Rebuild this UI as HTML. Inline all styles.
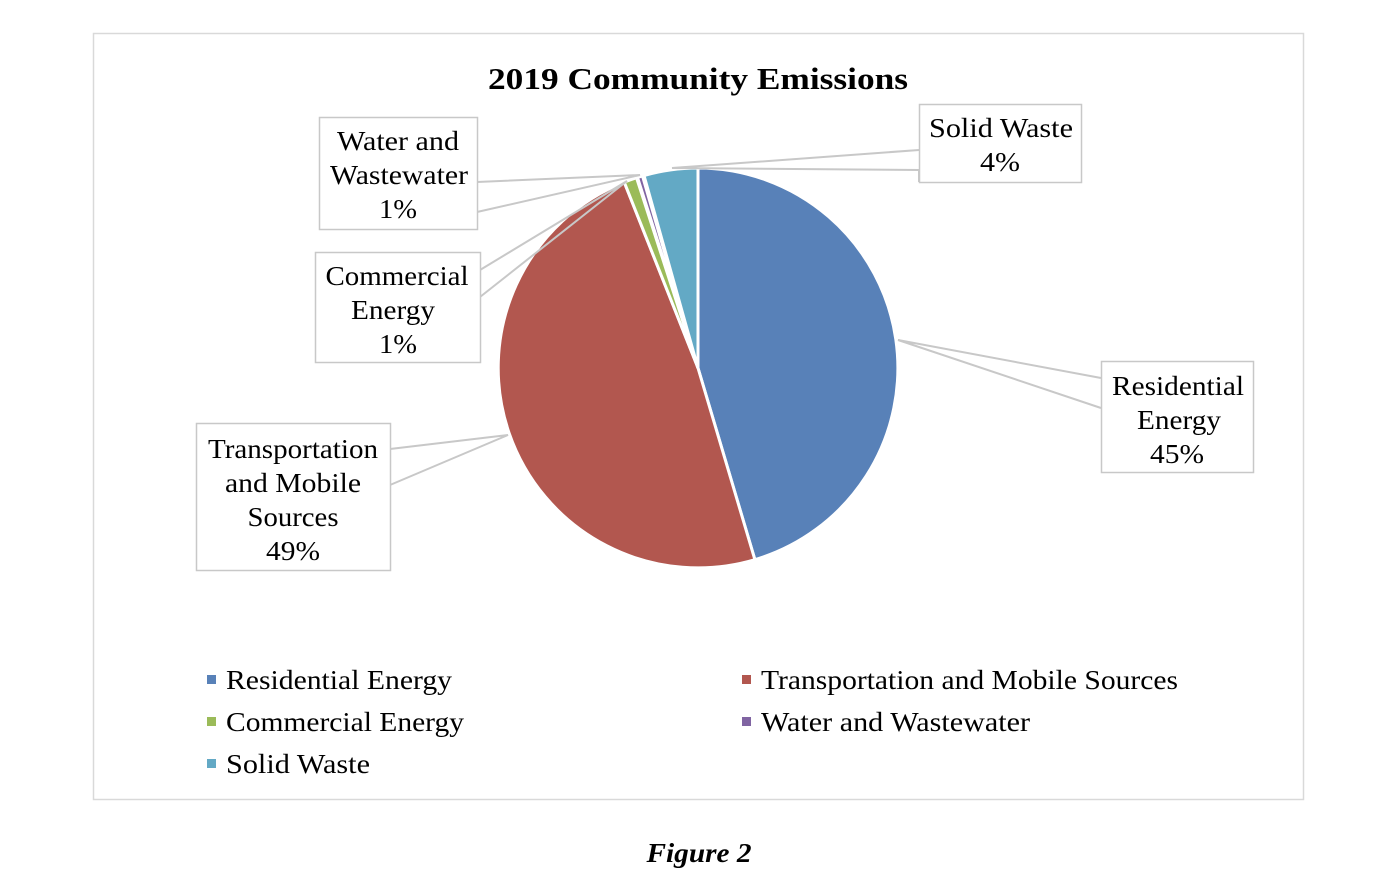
<!DOCTYPE html>
<html><head><style>
body{margin:0;background:#fff;}
svg{display:block;}
text{font-family:"Liberation Serif",serif;fill:#000;}
</style></head><body>
<svg width="1400" height="885" viewBox="0 0 1400 885">
<rect x="93.5" y="33.5" width="1210" height="766" fill="#fff" stroke="#d9d9d9" stroke-width="1.5"/>
<text x="698" y="89" font-size="31" font-weight="bold" text-anchor="middle" textLength="420" lengthAdjust="spacingAndGlyphs">2019 Community Emissions</text>
<g stroke="#fff" stroke-width="3" stroke-linejoin="round">
<path d="M698,368 L698,168 A200,200 0 0 1 754.9,559.7 Z" fill="#5881b8"/>
<path d="M698,368 L754.9,559.7 A200,200 0 0 1 624.2,182.1 Z" fill="#b2574f"/>
<path d="M698,368 L624.2,182.1 A200,200 0 0 1 636.5,177.7 Z" fill="#9bbb59"/>
<path d="M698,368 L637.5,177.4 A200,200 0 0 1 642.5,175.9 Z" fill="#8064a2"/>
<path d="M698,368 L644,175.5 A200,200 0 0 1 698,168 Z" fill="#63a9c5"/>
</g>
<g stroke="#c8c8c8" stroke-width="2" fill="none">
<polyline points="1101,378 898,340 1101,408"/>
<polyline points="390,449 508,435 390,485"/>
<polyline points="480,270 627,181 480,297"/>
<polyline points="477,182 640,175 477,212"/>
<polyline points="919,150 672,168 919,170 919,182"/>
</g>
<g fill="#fff" stroke="#c8c8c8" stroke-width="1.5">
<rect x="1101.5" y="361.5" width="152" height="111"/>
<rect x="196.5" y="423.5" width="194" height="147"/>
<rect x="315.5" y="252.5" width="165" height="110"/>
<rect x="319.5" y="117.5" width="158" height="112"/>
<rect x="919.5" y="104.5" width="162" height="78"/>
</g>
<g font-size="27" text-anchor="middle">
<text x="1178" y="395" textLength="132" lengthAdjust="spacingAndGlyphs">Residential</text><text x="1179" y="429" textLength="84" lengthAdjust="spacingAndGlyphs">Energy</text><text x="1177" y="463" textLength="54" lengthAdjust="spacingAndGlyphs">45%</text>
<text x="293" y="458" textLength="170" lengthAdjust="spacingAndGlyphs">Transportation</text><text x="293" y="492" textLength="136" lengthAdjust="spacingAndGlyphs">and Mobile</text><text x="293" y="526" textLength="91" lengthAdjust="spacingAndGlyphs">Sources</text><text x="293" y="560" textLength="54" lengthAdjust="spacingAndGlyphs">49%</text>
<text x="397" y="285" textLength="143" lengthAdjust="spacingAndGlyphs">Commercial</text><text x="393" y="319" textLength="84" lengthAdjust="spacingAndGlyphs">Energy</text><text x="398" y="353" textLength="38" lengthAdjust="spacingAndGlyphs">1%</text>
<text x="398" y="150" textLength="122" lengthAdjust="spacingAndGlyphs">Water and</text><text x="399" y="184" textLength="138" lengthAdjust="spacingAndGlyphs">Wastewater</text><text x="398" y="218" textLength="38" lengthAdjust="spacingAndGlyphs">1%</text>
<text x="1001" y="137" textLength="144" lengthAdjust="spacingAndGlyphs">Solid Waste</text><text x="1000" y="171" textLength="40" lengthAdjust="spacingAndGlyphs">4%</text>
</g>
<g font-size="27">
<rect x="207" y="675" width="9" height="9" fill="#5881b8"/><text x="226" y="689" textLength="226" lengthAdjust="spacingAndGlyphs">Residential Energy</text>
<rect x="742" y="675" width="9" height="9" fill="#b2574f"/><text x="761" y="689" textLength="417" lengthAdjust="spacingAndGlyphs">Transportation and Mobile Sources</text>
<rect x="207" y="717" width="9" height="9" fill="#9bbb59"/><text x="226" y="731" textLength="238" lengthAdjust="spacingAndGlyphs">Commercial Energy</text>
<rect x="742" y="717" width="9" height="9" fill="#8064a2"/><text x="761" y="731" textLength="269" lengthAdjust="spacingAndGlyphs">Water and Wastewater</text>
<rect x="207" y="759" width="9" height="9" fill="#63a9c5"/><text x="226" y="773" textLength="144" lengthAdjust="spacingAndGlyphs">Solid Waste</text>
</g>
<text x="699" y="862" font-size="27" font-weight="bold" font-style="italic" text-anchor="middle" textLength="105" lengthAdjust="spacingAndGlyphs">Figure 2</text>
</svg>
</body></html>
